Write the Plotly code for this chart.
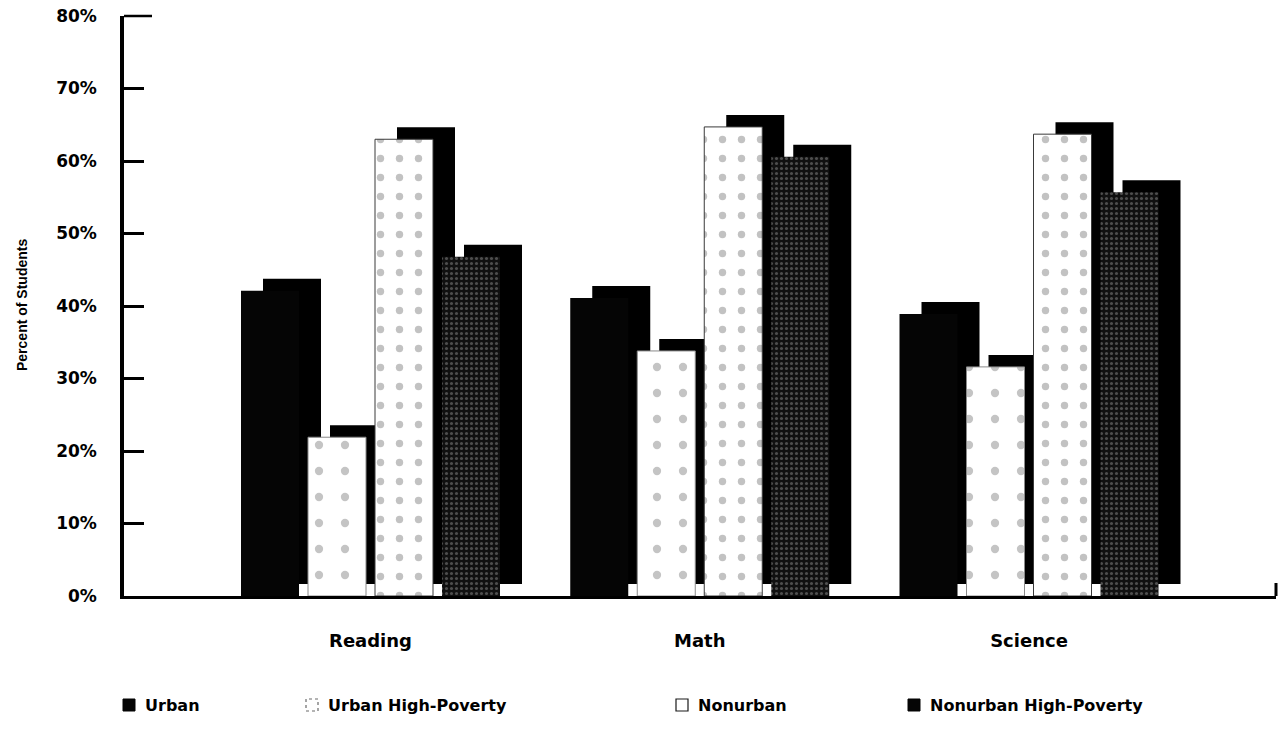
import numpy as np
import plotly.graph_objects as go

# ---- data -------------------------------------------------------------
subjects = ["Reading", "Math", "Science"]
series_names = ["Urban", "Urban High-Poverty", "Nonurban", "Nonurban High-Poverty"]
urban = [42.1, 41.1, 38.9]
urban_high_poverty = [21.9, 33.8, 31.6]
nonurban = [63.0, 64.7, 63.7]
nonurban_high_poverty = [46.8, 60.6, 55.7]
y_tick_values = [0, 10, 20, 30, 40, 50, 60, 70, 80]
y_tick_labels = ["0%", "10%", "20%", "30%", "40%", "50%", "60%", "70%", "80%"]

# ---- page geometry ----------------------------------------------------
W, H = 1281, 741
ML, MR, MT, MB = 124, 5, 16, 145
PW, PH = W - ML - MR, H - MT - MB


def px_x(px):
    return (px - ML) / PW


def px_y(py):
    return (H - MB - py) / PH


GROUP_PX = 329.25          # pixels between subject groups
FIRST_GROUP_PX = 370.5     # pixel centre of the first group
Y_PX = PH / 80.0           # pixels per percentage point
step = 67 / GROUP_PX       # distance between bars inside a group
bar_w = 58 / GROUP_PX      # bar width
shadow_dx = 22 / GROUP_PX  # depth offset of the block shadow
shadow_lift = 12 / Y_PX    # vertical lift of the block shadow

FONT = "DejaVu Sans"

styles = [
    dict(color="#050505", line=dict(color="#050505", width=0)),
    dict(color="#ffffff", line=dict(color="#8a8a8a", width=1),
         pattern=dict(shape=".", bgcolor="#ffffff", fgcolor="#8a8a8a",
                      size=26, solidity=0.08)),
    dict(color="#ffffff", line=dict(color="#3a3a3a", width=1),
         pattern=dict(shape=".", bgcolor="#ffffff", fgcolor="#858585",
                      size=19, solidity=0.12)),
    dict(color="#161616", line=dict(color="#161616", width=0),
         pattern=dict(shape=".", bgcolor="#101010", fgcolor="#8c8c8c",
                      size=5, solidity=0.3)),
]
values = [urban, urban_high_poverty, nonurban, nonurban_high_poverty]
groups = np.arange(len(subjects))

fig = go.Figure()

# black block shadows behind the bars
for i, vals in enumerate(values):
    fig.add_trace(go.Bar(
        x=groups + (i - 1.5) * step + shadow_dx, y=vals, base=shadow_lift,
        width=bar_w, marker=dict(color="#000000", line=dict(width=0)),
        showlegend=False, hoverinfo="skip",
    ))

# front bars
for i, vals in enumerate(values):
    fig.add_trace(go.Bar(
        x=groups + (i - 1.5) * step, y=vals, width=bar_w,
        name=series_names[i], marker=styles[i], showlegend=False,
        hovertemplate="%{y:.1f}%<extra>" + series_names[i] + "</extra>",
    ))

fig.update_layout(
    width=W, height=H, barmode="overlay",
    margin=dict(l=ML, r=MR, t=MT, b=MB),
    paper_bgcolor="white", plot_bgcolor="white",
    font=dict(family=FONT, color="#000000"),
    xaxis=dict(
        range=[(ML - FIRST_GROUP_PX) / GROUP_PX,
               (W - MR - FIRST_GROUP_PX) / GROUP_PX],
        tickvals=list(groups), ticktext=subjects, ticks="",
        tickfont=dict(family=FONT, size=18, weight="bold"),
        ticklabelstandoff=26,
        showline=True, linecolor="#000000", linewidth=3,
        showgrid=False, zeroline=False,
    ),
    yaxis=dict(
        range=[0, 80], tickvals=y_tick_values, ticktext=y_tick_labels,
        ticks="inside", ticklen=20, tickwidth=2.5, tickcolor="#000000",
        tickfont=dict(family=FONT, size=17, weight="bold"),
        ticklabelstandoff=20,
        showline=True, linecolor="#000000", linewidth=3.5,
        showgrid=False, zeroline=False,
    ),
)

# y axis title
fig.add_annotation(
    text="Percent of Students", xref="paper", yref="paper",
    x=px_x(22), y=px_y(305), xanchor="center", yanchor="middle",
    textangle=-90, showarrow=False,
    font=dict(family="Liberation Sans", size=14, weight="bold"),
)

# small end mark at the right end of the baseline
fig.add_shape(type="line", xref="paper", yref="paper",
              x0=1, x1=1, y0=0, y1=px_y(583),
              line=dict(color="#000000", width=3))

# longer mark at the top of the value axis
fig.add_shape(type="line", xref="paper", yref="paper",
              x0=0, x1=px_x(152), y0=1, y1=1,
              line=dict(color="#000000", width=2.5))

# legend row
legend_left = [123, 306, 676, 908]
legend_fill = ["#050505", "#ffffff", "#ffffff", "#050505"]
legend_edge = [dict(color="#050505", width=1),
               dict(color="#6a6a6a", width=1.2, dash="dot"),
               dict(color="#1a1a1a", width=1.2),
               dict(color="#050505", width=1)]
for i, name in enumerate(series_names):
    x0 = legend_left[i]
    fig.add_shape(type="rect", xref="paper", yref="paper",
                  x0=px_x(x0), x1=px_x(x0 + 12),
                  y0=px_y(711), y1=px_y(699),
                  fillcolor=legend_fill[i], line=legend_edge[i])
    fig.add_annotation(text=name, xref="paper", yref="paper",
                       x=px_x(x0 + 20), y=px_y(705),
                       xanchor="left", yanchor="middle",
                       showarrow=False,
                       font=dict(family=FONT, size=16, weight="bold"))

fig.write_html("out.html")
